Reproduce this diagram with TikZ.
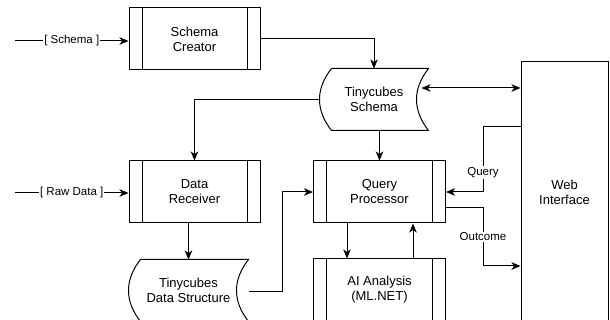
\documentclass[tikz,border=0pt]{standalone}
\usepackage{fontspec}
\setmainfont{Liberation Sans}
\usetikzlibrary{arrows.meta}

\newcommand{\storedata}[1]{%
  \draw ([xshift=12pt]#1.north west) -- (#1.north east)
    .. controls ([shift={(-16pt,-20.3pt)}]#1.north east) and ([shift={(-16pt,20.3pt)}]#1.south east) .. (#1.south east)
    -- ([xshift=12pt]#1.south west)
    .. controls ([shift={(-4pt,20.3pt)}]#1.south west) and ([shift={(-4pt,-20.3pt)}]#1.north west) .. ([xshift=12pt]#1.north west);}

\begin{document}
\begin{tikzpicture}[x=1pt, y=-1pt, line width=1pt,
    every node/.style={font=\fontsize{13}{15}\selectfont, align=center},
    arr/.style={-{Stealth[length=9pt,width=7.5pt,inset=2.5pt]}},
    dblarr/.style={{Stealth[length=9pt,width=7.5pt,inset=2.5pt]}-{Stealth[length=9pt,width=7.5pt,inset=2.5pt]}},
    process/.style={draw, minimum width=131pt, minimum height=62pt, inner sep=0pt,
        path picture={\draw ([xshift=13pt]path picture bounding box.north west) -- ([xshift=13pt]path picture bounding box.south west)
            ([xshift=-13pt]path picture bounding box.north east) -- ([xshift=-13pt]path picture bounding box.south east);}},
    store/.style={minimum height=61pt, inner sep=0pt},
    lbl/.style={fill=white, font=\fontsize{11.5}{13}\selectfont, inner sep=1pt}]

    \useasboundingbox (0,0) rectangle (610,320);

    \node[process] (creator) at (194.5,39) {Schema\\Creator};
    \node[process] (receiver) at (194.5,192) {Data\\Receiver};
    \node[process, minimum width=132pt] (qp) at (379.5,192) {Query\\Processor};
    \node[process, minimum width=132pt] (ai) at (379.5,290) {AI Analysis\\(ML.NET)};
    \node[store, minimum width=108pt] (schema) at (374,99.5) {Tinycubes\\Schema};
    \node[store, minimum width=119pt] (dstruct) at (188.5,290.5) {Tinycubes\\Data Structure};
    \node[draw, minimum width=87pt, minimum height=260pt] (web) at (564.5,192) {Web\\Interface};
    \storedata{schema}
    \storedata{dstruct}

    \coordinate (schemain) at (15,41);
    \coordinate (rawin) at (15,193);
    \coordinate (bi) at ([shift={(-7pt,11.5pt)}]schema.east);
    \coordinate (qturn) at (483,127);
    \coordinate (oturn) at (483,266);
    \coordinate (qpout) at ([yshift=-16pt]qp.east);
    \coordinate (dturn) at (282,291);

    \draw[arr] (schemain) -- node[lbl] {[ Schema ]} (creator.west |- schemain);
    \draw[arr] (rawin) -- node[lbl] {[ Raw Data ]} (receiver.west |- rawin);
    \draw[arr] (creator.east) -| (schema.north);
    \draw[arr] (schema.west) -| (receiver.north);
    \draw[arr] (qp.north |- schema.south) -- (qp.north);
    \draw[arr] (dstruct.north |- receiver.south) -- (dstruct.north);
    \draw[dblarr] (bi) -- (bi -| web.west);
    \draw[arr] (web.west |- qturn) -- (qturn) -- node[lbl, pos=0.7] {Query} (qturn |- qp.east) -- (qp.east);
    \draw[arr] (qpout) -- (qpout -| oturn) -- node[lbl] {Outcome} (oturn) -- (oturn -| web.west);
    \draw[arr] (dturn -| dstruct.east) -- (dturn) |- (qp.west);
    \draw[arr] ([xshift=-32.5pt]qp.south) -- ([xshift=-32.5pt]ai.north);
    \draw[arr] ([xshift=33.5pt]ai.north) -- ([xshift=33.5pt]qp.south);

\end{tikzpicture}
\end{document}
